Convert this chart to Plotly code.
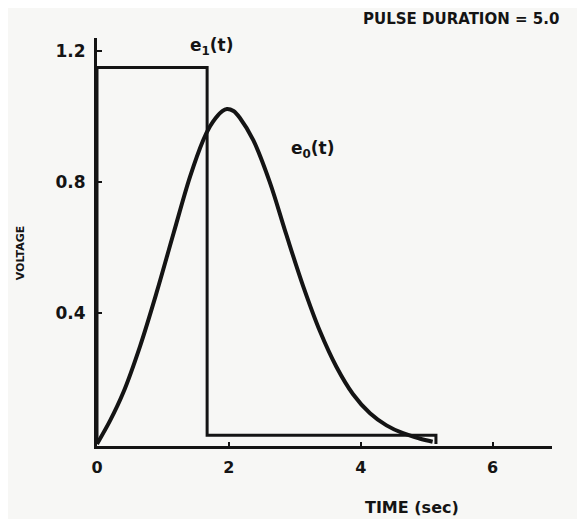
import plotly.graph_objects as go

# e1(t): input pulse
t_e1 = [0, 0, 1.67, 1.67, 5.14, 5.14]
v_e1 = [0, 1.15, 1.15, 0.027, 0.027, 0]

# e0(t): output response
t_e0 = [0, 0.20, 0.40, 0.65, 0.90, 1.16, 1.41, 1.61, 1.71, 1.80, 1.90, 1.97, 2.07, 2.17, 2.37,
        2.62, 2.87, 3.13, 3.38, 3.63, 3.88, 4.14, 4.39, 4.64, 4.89, 5.09]
v_e0 = [0, 0.072, 0.158, 0.297, 0.460, 0.643, 0.816, 0.928, 0.969, 0.996, 1.017, 1.023, 1.017, 0.995, 0.928,
        0.800, 0.640, 0.480, 0.345, 0.236, 0.153, 0.094, 0.057, 0.033, 0.017, 0.007]

x_ticks = [0, 2, 4, 6]
x_tick_labels = ["0", "2", "4", "6"]
y_ticks = [0.4, 0.8, 1.2]
y_tick_labels = ["0.4", "0.8", "1.2"]

INK = "#141414"
BG = "#f7f7f5"
FONT = "DejaVu Sans"

fig = go.Figure()
fig.add_trace(go.Scatter(x=t_e1, y=v_e1, mode="lines",
                         line=dict(color=INK, width=3), showlegend=False))
fig.add_trace(go.Scatter(x=t_e0, y=v_e0, mode="lines",
                         line=dict(color=INK, width=4, shape="spline", smoothing=1.0),
                         showlegend=False))

fig.update_layout(
    width=577, height=511,
    margin=dict(l=89, r=33, t=30, b=73),
    paper_bgcolor=BG, plot_bgcolor=BG,
    font=dict(family=FONT, color=INK, weight="bold"),
    xaxis=dict(range=[0, 6.9], showgrid=False, zeroline=False,
               showline=True, linecolor=INK, linewidth=3,
               tickmode="array", tickvals=x_ticks, ticktext=x_tick_labels,
               ticks="inside", ticklen=4, tickwidth=2, tickcolor=INK,
               ticklabelstandoff=5,
               tickfont=dict(size=16, family=FONT, weight="bold", color=INK)),
    yaxis=dict(range=[-0.006, 1.24], showgrid=False, zeroline=False,
               showline=True, linecolor=INK, linewidth=3,
               tickmode="array", tickvals=y_ticks, ticktext=y_tick_labels,
               ticks="inside", ticklen=5, tickwidth=2, tickcolor=INK,
               ticklabelstandoff=5,
               tickfont=dict(size=17, family=FONT, weight="bold", color=INK)),
    annotations=[
        dict(text="e<sub>1</sub>(t)", x=1.74, y=1.215, xref="x", yref="y",
             xanchor="center", yanchor="middle",
             showarrow=False, font=dict(size=17, family=FONT, weight="bold", color=INK)),
        dict(text="e<sub>0</sub>(t)", x=3.27, y=0.90, xref="x", yref="y",
             xanchor="center", yanchor="middle",
             showarrow=False, font=dict(size=17, family=FONT, weight="bold", color=INK)),
        dict(text="TIME (sec)", x=4.77, y=-0.15, xref="x", yref="paper",
             xanchor="center", yanchor="middle",
             showarrow=False, font=dict(size=16, family=FONT, weight="bold", color=INK)),
        dict(text="VOLTAGE", x=-0.169, y=0.583, xref="paper", yref="y", textangle=-90,
             xanchor="center", yanchor="middle",
             showarrow=False, font=dict(size=11, family=FONT, weight="bold", color=INK)),
        dict(text="PULSE DURATION = 5.0", x=0.80, y=1.047, xref="paper", yref="paper",
             xanchor="center", yanchor="middle",
             showarrow=False, font=dict(size=15, family=FONT, weight="bold", color=INK)),
    ],
)

fig.write_html("out.html")
